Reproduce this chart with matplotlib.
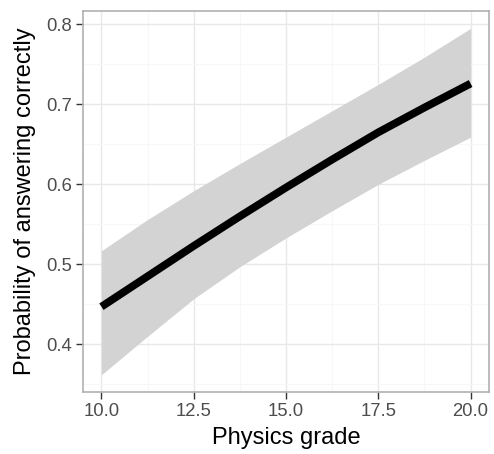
import matplotlib.pyplot as plt
from matplotlib.ticker import MultipleLocator

# predicted probability vs physics grade, with confidence band
grade = [10.0, 11.25, 12.5, 13.75, 15.0, 16.25, 17.5, 18.75, 20.0]
prob = [0.447, 0.485, 0.523, 0.560, 0.596, 0.631, 0.665, 0.696, 0.726]
upper = [0.517, 0.556, 0.592, 0.626, 0.659, 0.692, 0.725, 0.759, 0.795]
lower = [0.362, 0.410, 0.457, 0.497, 0.533, 0.567, 0.600, 0.630, 0.659]

xticks = [10.0, 12.5, 15.0, 17.5, 20.0]
yticks = [0.4, 0.5, 0.6, 0.7, 0.8]

plt.rcParams['font.family'] = ['Liberation Sans', 'DejaVu Sans']

fig = plt.figure(figsize=(4.94, 4.54), dpi=100)
ax = fig.add_axes([0.168, 0.1366, 0.822, 0.8392])

ax.fill_between(grade, lower, upper, color='#D3D3D3', linewidth=0, zorder=2)
ax.plot(grade, prob, color='black', linewidth=5.6, solid_capstyle='butt', zorder=3)

ax.set_xlim(9.5, 20.5)
ax.set_ylim(0.3404, 0.8167)
ax.set_xticks(xticks)
ax.set_xticklabels(['%.1f' % t for t in xticks])
ax.set_yticks(yticks)
ax.set_yticklabels(['%.1f' % t for t in yticks])
ax.xaxis.set_minor_locator(MultipleLocator(1.25))
ax.yaxis.set_minor_locator(MultipleLocator(0.05))

ax.grid(which='major', color='#E8E8E8', linewidth=1.0, zorder=0)
ax.grid(which='minor', color='#F7F7F7', linewidth=0.8, zorder=0)
ax.set_axisbelow(True)

for s in ax.spines.values():
    s.set_color('#B0B0B0')
    s.set_linewidth(1.2)

ax.tick_params(which='major', length=5, width=1, color='#333333',
               labelsize=13.3, labelcolor='#4D4D4D', pad=3)
ax.tick_params(which='minor', length=0)

ax.set_xlabel('Physics grade', fontsize=17, labelpad=5)
ax.set_ylabel('Probability of answering correctly', fontsize=17, labelpad=7)

fig.savefig('out.png', dpi=100)
